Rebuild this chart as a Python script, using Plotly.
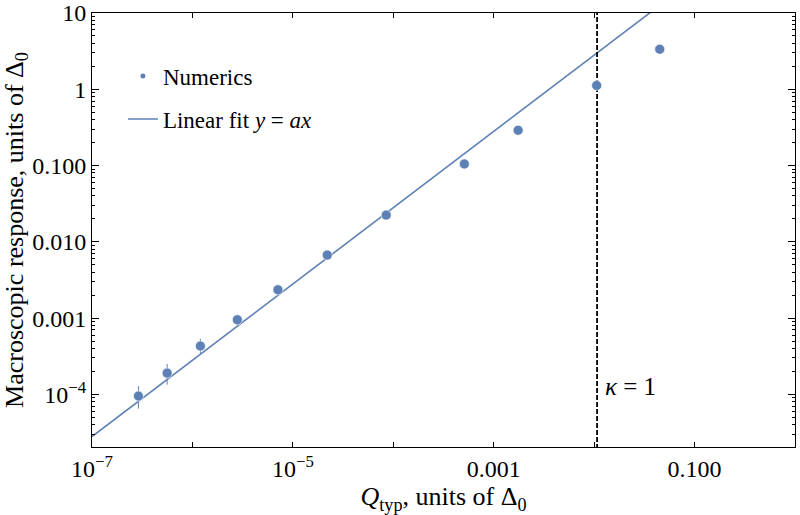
import math

import plotly.graph_objects as go

# Numerics
q_typ = [2.9e-7, 5.6e-7, 1.2e-6, 2.8e-6, 7.1e-6, 2.2e-5, 8.5e-5, 5.1e-4, 1.75e-3, 0.0106, 0.045]
response = [9.5e-5, 1.9e-4, 4.3e-4, 9.5e-4, 2.35e-3, 6.7e-3, 0.0224, 0.105, 0.29, 1.12, 3.35]
err_plus = [3.3e-5, 6.0e-5, 1.05e-4, 1.6e-4, 4.0e-4, 5e-4, 1.5e-3, 7e-3, 0.02, 0.08, 0.2]
err_minus = [3.0e-5, 5.6e-5, 8.5e-5, 1.7e-4, 3.6e-4, 5e-4, 1.5e-3, 7e-3, 0.02, 0.08, 0.2]

# Linear fit y = a x
fit_a = 280.0
fit_x = [1e-7, 1.0]

# kappa = 1 marker
kappa_x = 0.0107
kappa_span = [1e-6, 100.0]
kappa_label_y = 1.28e-4

x_tickvals = [1e-7, 1e-6, 1e-5, 1e-4, 1e-3, 1e-2, 1e-1, 1.0]
x_ticktext = ["10<sup>−7</sup>", "", "10<sup>−5</sup>", "", "0.001", "", "0.100", ""]
y_tickvals = [1e-4, 1e-3, 1e-2, 1e-1, 1.0, 10.0]
y_ticktext = ["10<sup>−4</sup>", "0.001", "0.010", "0.100", "1", "10"]

BLUE = "#5E81B5"
FONT = "Liberation Serif"

fig = go.Figure()

# fit line
fig.add_trace(
    go.Scatter(
        x=fit_x,
        y=[fit_a * v for v in fit_x],
        mode="lines",
        name="Linear fit <i>y</i> = <i>ax</i>",
        line=dict(color=BLUE, width=1.6),
        legendgroup="fit",
        legendrank=2,
    )
)

# vertical kappa = 1 line
fig.add_trace(
    go.Scatter(
        x=[kappa_x, kappa_x],
        y=kappa_span,
        mode="lines",
        showlegend=False,
        line=dict(color="black", width=1.8, dash="5px,2px"),
    )
)

# data points with error bars
fig.add_trace(
    go.Scatter(
        x=q_typ,
        y=response,
        mode="markers",
        showlegend=False,
        marker=dict(color=BLUE, size=10, line=dict(color="rgba(255,255,255,0.6)", width=1)),
        error_y=dict(
            type="data",
            symmetric=False,
            array=err_plus,
            arrayminus=err_minus,
            color=BLUE,
            thickness=1,
            width=0,
        ),
    )
)

# legend-only entry with a small dot
fig.add_trace(
    go.Scatter(
        x=[None],
        y=[None],
        mode="markers",
        name="Numerics",
        marker=dict(color=BLUE, size=5),
        legendgroup="num",
        legendrank=1,
    )
)

# annotations on log axes take log10 coordinates
fig.add_annotation(
    x=math.log10(kappa_x),
    y=math.log10(kappa_label_y),
    xref="x",
    yref="y",
    text="<i>κ</i> = 1",
    showarrow=False,
    xanchor="left",
    xshift=6,
    font=dict(family=FONT, size=25, color="black"),
)

axis_common = dict(
    type="log",
    automargin=False,
    showgrid=False,
    zeroline=False,
    showline=True,
    linecolor="black",
    linewidth=1,
    mirror="allticks",
    ticks="inside",
    tickcolor="black",
    tickfont=dict(family=FONT, size=24, color="black"),
)

y_minor = [m * 10.0**e for e in range(-5, 1) for m in range(2, 10)]

fig.update_xaxes(
    **axis_common,
    range=[-7, 0],
    tickmode="array",
    tickvals=x_tickvals,
    ticktext=x_ticktext,
    ticklen=5,
    title=dict(
        text="<i>Q</i><sub>typ</sub>, units of Δ<sub>0</sub>",
        font=dict(family=FONT, size=26, color="black"),
        standoff=6,
    ),
)
fig.update_yaxes(
    **axis_common,
    range=[-4.69, 1],
    tickmode="array",
    tickvals=y_tickvals,
    ticktext=y_ticktext,
    ticklen=7,
    minor=dict(ticks="inside", ticklen=3, tickcolor="black", tickmode="array", tickvals=y_minor, showgrid=False),
    title=dict(
        text="Macroscopic response, units of Δ<sub>0</sub>",
        font=dict(family=FONT, size=26, color="black"),
        standoff=4,
    ),
)

fig.update_layout(
    width=800,
    height=515,
    margin=dict(l=92, r=5, t=13, b=68),
    paper_bgcolor="white",
    plot_bgcolor="white",
    showlegend=True,
    legend=dict(
        x=0.044,
        y=0.904,
        xanchor="left",
        yanchor="top",
        bgcolor="rgba(0,0,0,0)",
        font=dict(family=FONT, size=23, color="black"),
        tracegroupgap=10,
    ),
)

# drop the browser's default 8px body margin so the figure fills the window
fig.write_html(
    "out.html",
    config={"displayModeBar": False},
    post_script="document.body.style.margin = '0';",
)
